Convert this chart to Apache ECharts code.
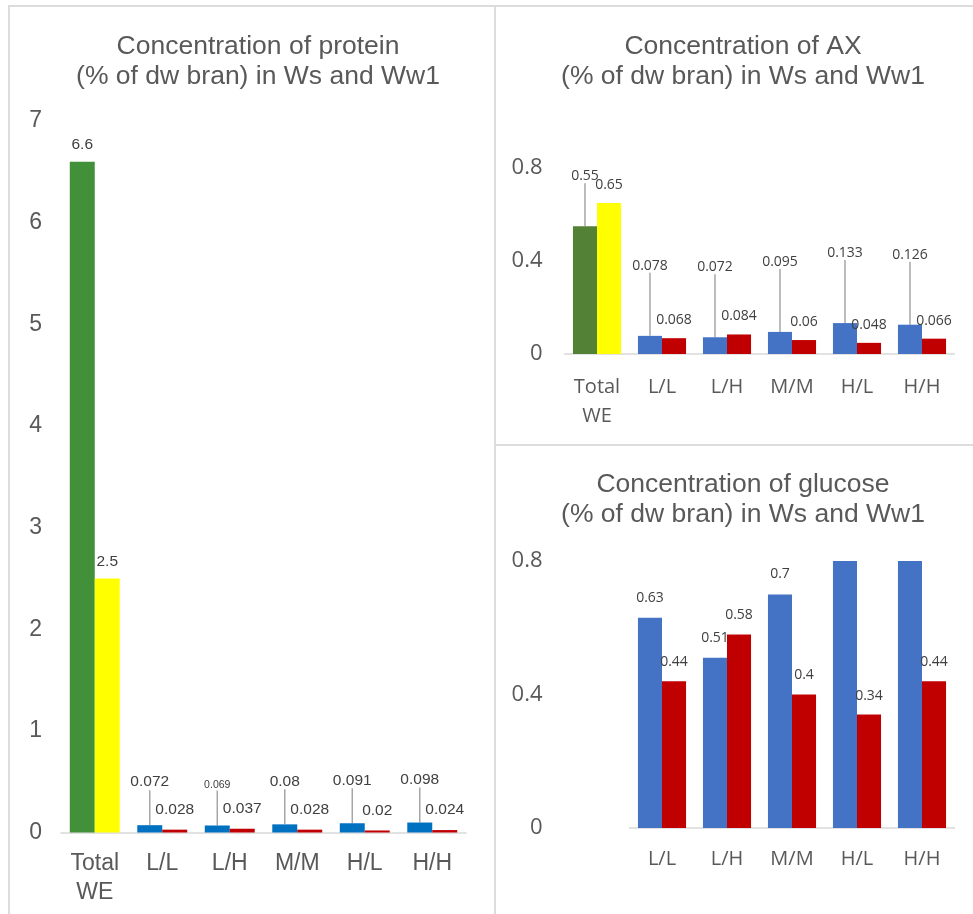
<!DOCTYPE html>
<html>
<head>
<meta charset="utf-8">
<script src="https://cdn.jsdelivr.net/npm/echarts@6/dist/echarts.min.js"></script>
<style>
  html, body { margin: 0; padding: 0; background: #fff; }
  #wrap { position: relative; width: 973px; height: 914px; overflow: hidden; }
  .panel { position: absolute; border: 2px solid #dcdcdc; box-sizing: border-box; }
  #chart { position: absolute; left: 0; top: 0; width: 973px; height: 914px; }
</style>
</head>
<body>
<div id="wrap">
  <div class="panel" style="left:8px; top:5px; width:488px; height:940px;"></div>
  <div class="panel" style="left:494px; top:5px; width:500px; height:441px;"></div>
  <div class="panel" style="left:494px; top:444px; width:500px; height:500px;"></div>
  <div id="chart"></div>
</div>
<script>
// Categories
const catsWE = ['Total\nWE', 'L/L', 'L/H', 'M/M', 'H/L', 'H/H'];
const catsGlc = ['L/L', 'L/H', 'M/M', 'H/L', 'H/H'];

// Protein (% of dw bran)
const proteinTotalWs = 6.6;
const proteinTotalWw1 = 2.5;
const proteinWs = [0.072, 0.069, 0.08, 0.091, 0.098];
const proteinWw1 = [0.028, 0.037, 0.028, 0.02, 0.024];
const proteinTicks = { min: 0, max: 7, interval: 1 };

// Arabinoxylan (% of dw bran)
const axTotalWs = 0.55;
const axTotalWw1 = 0.65;
const axWs = [0.078, 0.072, 0.095, 0.133, 0.126];
const axWw1 = [0.068, 0.084, 0.06, 0.048, 0.066];
const axTicks = { min: 0, max: 0.8, interval: 0.4 };

// Glucose (% of dw bran); H/L and H/H Ws run past the axis top
const glcWs = [0.63, 0.51, 0.7, 0.86, 0.86];
const glcWw1 = [0.44, 0.58, 0.4, 0.34, 0.44];
const glcTicks = { min: 0, max: 0.8, interval: 0.4 };

const ARIAL = 'Liberation Sans, Arial, sans-serif';
const SEGOE = 'Open Sans, sans-serif';
const AXIS_TXT = '#595959';
const LBL_TXT = '#404040';
const LEADER = { show: true, lineStyle: { color: '#a6a6a6', width: 1.5 } };

const chart = echarts.init(document.getElementById('chart'), null, { renderer: 'canvas' });

function totalOnly(v) { return [v, '-', '-', '-', '-', '-']; }
function restOnly(arr) { return ['-'].concat(arr); }

function xAxisCfg(gi, data, font, size, margin) {
  return {
    type: 'category', gridIndex: gi, data: data,
    axisLine: { lineStyle: { color: '#d9d9d9', width: 1.5 } },
    axisTick: { show: false },
    axisLabel: { color: AXIS_TXT, fontFamily: font, fontSize: size, lineHeight: 29, margin: margin, interval: 0 }
  };
}
function yAxisCfg(gi, t, font, size, margin) {
  return {
    type: 'value', gridIndex: gi, min: t.min, max: t.max, interval: t.interval,
    axisLine: { show: false }, axisTick: { show: false }, splitLine: { show: false },
    axisLabel: { color: AXIS_TXT, fontFamily: font, fontSize: size, margin: margin }
  };
}
function bar(ai, data, color, stack, label, extra) {
  const s = Object.assign({
    type: 'bar', xAxisIndex: ai, yAxisIndex: ai, data: data,
    barGap: '0%', barCategoryGap: '26%',
    itemStyle: { color: color },
    label: Object.assign({ show: true, position: 'top', color: LBL_TXT }, label)
  }, extra || {});
  if (stack) s.stack = stack;
  return s;
}

const titleStyle = { fontFamily: ARIAL, fontSize: 26.5, fontWeight: 'normal', color: AXIS_TXT, lineHeight: 30 };

const option = {
  animation: false,
  title: [
    { text: 'Concentration of protein\n(% of dw bran) in Ws and Ww1', left: 253, top: 27, textAlign: 'center', textStyle: titleStyle },
    { text: 'Concentration of AX\n(% of dw bran) in Ws and Ww1', left: 738, top: 27, textAlign: 'center', textStyle: titleStyle },
    { text: 'Concentration of glucose\n(% of dw bran) in Ws and Ww1', left: 738, top: 465, textAlign: 'center', textStyle: titleStyle }
  ],
  grid: [
    { left: 61, top: 121, width: 405, height: 711.5 },
    { left: 564.5, top: 168, width: 390, height: 186 },
    { left: 629.5, top: 561, width: 325, height: 267 }
  ],
  xAxis: [
    xAxisCfg(0, catsWE, ARIAL, 23, 17),
    xAxisCfg(1, catsWE, SEGOE, 20, 19),
    xAxisCfg(2, catsGlc, SEGOE, 20, 17)
  ],
  yAxis: [
    yAxisCfg(0, proteinTicks, ARIAL, 23, 19),
    yAxisCfg(1, axTicks, SEGOE, 22, 22),
    yAxisCfg(2, glcTicks, SEGOE, 22, 87)
  ],
  series: [
    // protein
    bar(0, totalOnly(proteinTotalWs), '#43903b', 'pWs', { fontFamily: ARIAL, fontSize: 15.5, distance: 9 }),
    bar(0, totalOnly(proteinTotalWw1), '#ffff00', 'pWw', { fontFamily: ARIAL, fontSize: 15.5, distance: 9 }),
    bar(0, restOnly(proteinWs.map((v, i) => i === 1 ? { value: v, label: { fontSize: 10.5 } } : v)), '#0070c0', 'pWs',
      { fontFamily: ARIAL, fontSize: 15.5, distance: 5 },
      { labelLayout: { dy: -30 }, labelLine: LEADER }),
    bar(0, restOnly(proteinWw1), '#c00000', 'pWw', { fontFamily: ARIAL, fontSize: 15.5, distance: 12 }),
    // arabinoxylan
    bar(1, totalOnly(axTotalWs), '#538135', 'aWs', { fontFamily: SEGOE, fontSize: 14, distance: 5 },
      { labelLayout: { dy: -38 }, labelLine: LEADER }),
    bar(1, totalOnly(axTotalWw1), '#ffff00', 'aWw', { fontFamily: SEGOE, fontSize: 14, distance: 11 }),
    bar(1, restOnly(axWs), '#4472c4', 'aWs', { fontFamily: SEGOE, fontSize: 14, distance: 5 },
      { labelLayout: { dy: -58 }, labelLine: LEADER }),
    bar(1, restOnly(axWw1), '#c00000', 'aWw', { fontFamily: SEGOE, fontSize: 14, distance: 11 }),
    // glucose
    bar(2, glcWs.map(v => v > glcTicks.max ? { value: v, label: { show: false } } : v), '#4472c4', null,
      { fontFamily: SEGOE, fontSize: 14, distance: 13 }, { clip: true }),
    bar(2, glcWw1, '#c00000', null, { fontFamily: SEGOE, fontSize: 14, distance: 12 }, { clip: true })
  ]
};
chart.setOption(option);
</script>
</body>
</html>
